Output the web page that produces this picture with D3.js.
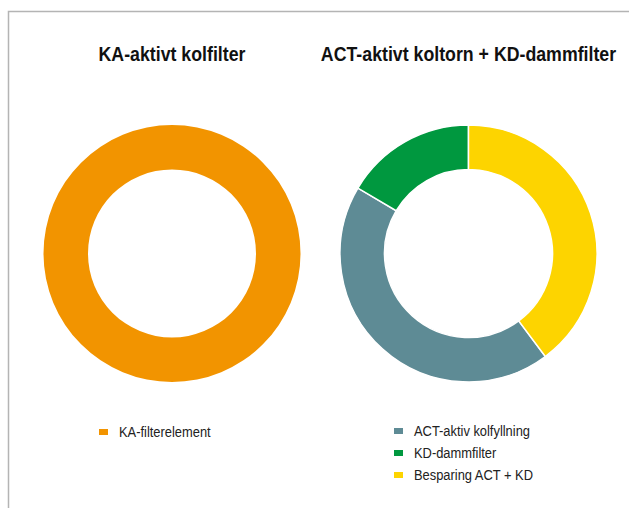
<!DOCTYPE html>
<html>
<head>
<meta charset="utf-8">
<script src="https://cdn.jsdelivr.net/npm/d3@7"></script>
<style>
  body { margin: 0; background: #fff; }
  svg { display: block; }
  .title { font-family: "Liberation Sans", Arial, sans-serif; font-weight: bold; font-size: 21px; fill: #111; }
  .legend text { font-family: "Liberation Sans", Arial, sans-serif; font-size: 15px; fill: #222; }
</style>
</head>
<body>
<div id="chart"></div>
<script>
// left chart: only the filter element
const leftTitle = "KA-aktivt kolfilter";
const leftLabels = ["KA-filterelement"];
const leftValues = [100];
const leftColors = ["#F29400"];

// right chart
const rightTitle = "ACT-aktivt koltorn + KD-dammfilter";
const rightLabels = ["ACT-aktiv kolfyllning", "KD-dammfilter", "Besparing ACT + KD"];
const rightValues = [43.7, 16.5, 39.8];
const rightColors = ["#5E8B95", "#00983F", "#FDD400"];

const W = 629, H = 508;
// no condensed font installed, squeeze horizontally
const narrowTitle = 0.845;
const narrowLegend = 0.86;

const svg = d3.select("#chart").append("svg")
  .attr("width", W)
  .attr("height", H);

// frame (runs off the right and bottom edge)
svg.append("rect")
  .attr("x", 8.5).attr("y", 11.5)
  .attr("width", W + 20).attr("height", H + 20)
  .attr("fill", "none")
  .attr("stroke", "#b4b4b4")
  .attr("stroke-width", 1.5);

const outerR = 128.5, innerR = 84;
const arc = d3.arc().innerRadius(innerR).outerRadius(outerR);

function donut(cx, cy, title, labels, values, colors, startAngle, legendX, legendY) {
  const g = svg.append("g").attr("transform", `translate(${cx},${cy})`);
  const pie = d3.pie().sort(null).value(d => d)
    .startAngle(startAngle).endAngle(startAngle + 2 * Math.PI);
  const color = d3.scaleOrdinal().domain(labels).range(colors);

  g.selectAll("path")
    .data(pie(values))
    .join("path")
    .attr("d", arc)
    .attr("fill", (d, i) => color(labels[i]))
    .attr("stroke", values.length > 1 ? "#fff" : "none")
    .attr("stroke-width", 1.5);

  svg.append("text")
    .attr("class", "title")
    .attr("transform", `translate(${cx},61) scale(${narrowTitle},1)`)
    .attr("text-anchor", "middle")
    .text(title);

  const lg = svg.append("g").attr("class", "legend")
    .attr("transform", `translate(${legendX},${legendY})`);
  const item = lg.selectAll("g")
    .data(labels)
    .join("g")
    .attr("transform", (d, i) => `translate(0,${i * 22})`);
  item.append("rect")
    .attr("x", 0).attr("y", -3)
    .attr("width", 9).attr("height", 6)
    .attr("fill", d => color(d));
  item.append("text")
    .attr("transform", `translate(20,0) scale(${narrowLegend},1)`)
    .attr("dy", "0.35em")
    .text(d => d);
}

donut(172, 253.5, leftTitle, leftLabels, leftValues, leftColors, 0, 99, 432);

// start the first slice so that the saving ends at 12 o'clock
const saveShare = rightValues[2] / d3.sum(rightValues);
donut(468.5, 253.5, rightTitle, rightLabels, rightValues, rightColors,
  2 * Math.PI * saveShare, 394, 431);
</script>
</body>
</html>
